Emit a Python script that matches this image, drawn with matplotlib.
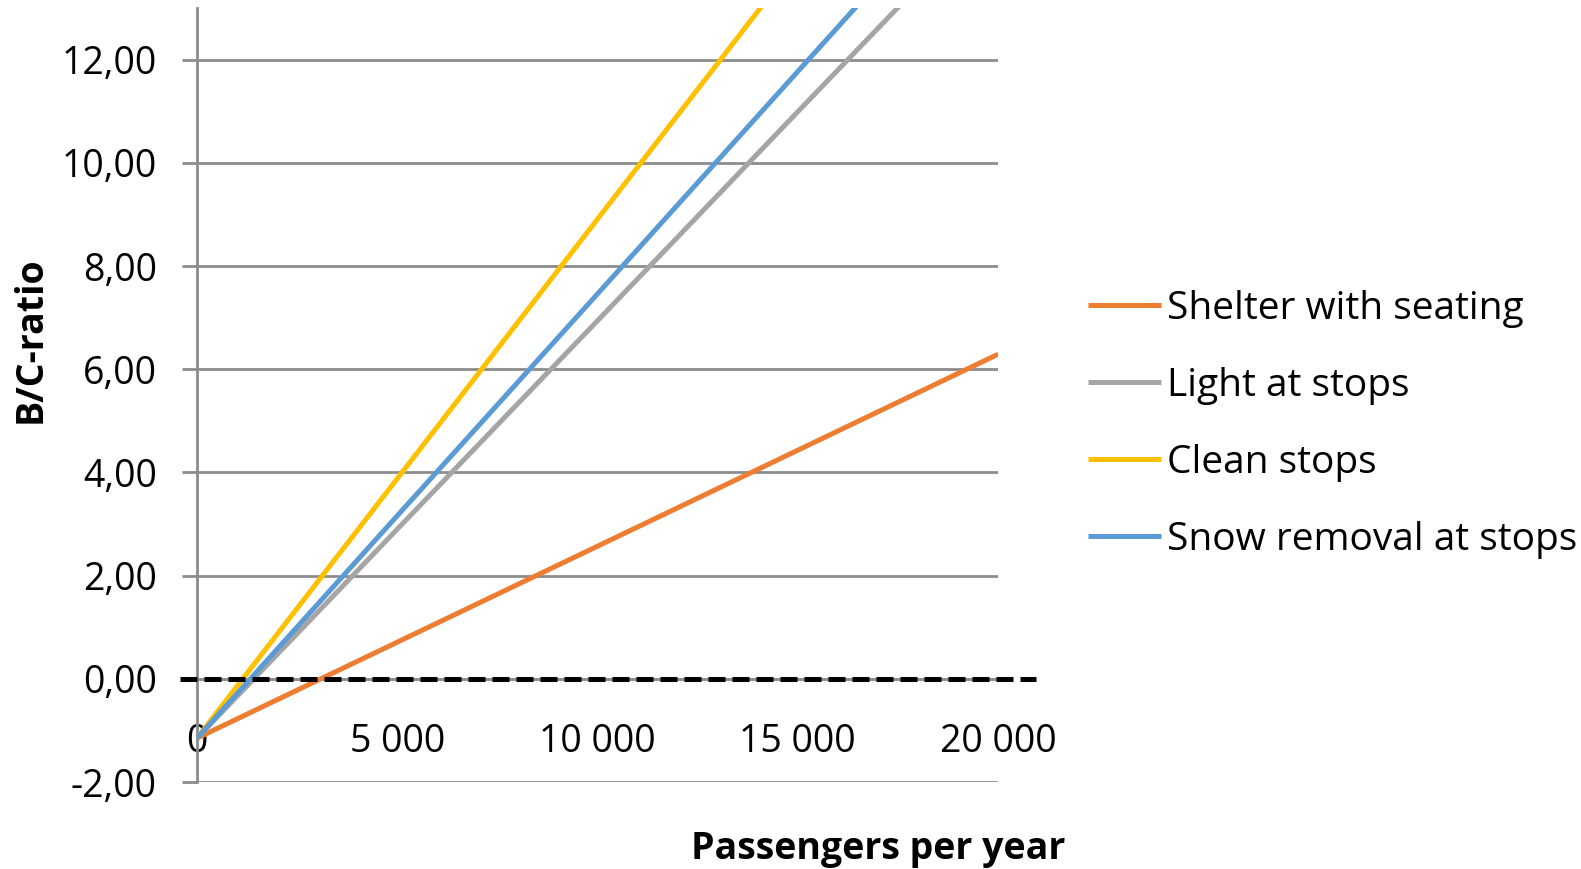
import matplotlib
matplotlib.use("Agg")
import matplotlib.pyplot as plt
from matplotlib.ticker import FuncFormatter

# passengers per year
passengers = [0, 5000, 10000, 15000, 20000]
# B/C-ratio per measure
shelter = [-1.15, 0.71, 2.57, 4.43, 6.29]
light = [-1.15, 2.90, 6.94, 10.99, 15.03]
clean = [-1.15, 3.88, 8.91, 13.94, 18.97]
snow = [-1.15, 3.16, 7.46, 11.77, 16.07]

series = [
    ("Shelter with seating", shelter, "#ED7D31"),
    ("Light at stops", light, "#A5A5A5"),
    ("Clean stops", clean, "#FFC000"),
    ("Snow removal at stops", snow, "#5B9BD5"),
]
yticks = [-2, 0, 2, 4, 6, 8, 10, 12]
xticks = [0, 5000, 10000, 15000, 20000]

plt.rcParams["font.family"] = ["Open Sans", "DejaVu Sans"]
GRID = "#8C8C8C"

fig = plt.figure(figsize=(15.81, 8.69), dpi=100)
ax = fig.add_axes([0.1246, 0.1001, 0.5067, 0.8907])

for name, vals, col in series:
    ax.plot(passengers, vals, color=col, lw=3.6, label=name,
            solid_capstyle="butt", zorder=3)

ax.axhline(0, xmin=-0.021, xmax=1.047, color="black", lw=3.6,
           dashes=(3.4, 1.4), clip_on=False, zorder=4)

ax.set_xlim(0, 20000)
ax.set_ylim(-2, 13)
ax.set_yticks(yticks)
ax.set_xticks(xticks)
ax.yaxis.set_major_formatter(FuncFormatter(lambda v, p: f"{v:.2f}".replace(".", ",")))
ax.xaxis.set_major_formatter(
    FuncFormatter(lambda v, p: f"{int(v):,}".replace(",", " ")))
ax.grid(axis="y", color=GRID, lw=2)
ax.set_axisbelow(True)

for s in ("top", "right"):
    ax.spines[s].set_visible(False)
ax.spines["left"].set_color(GRID)
ax.spines["left"].set_linewidth(2)
ax.spines["bottom"].set_position(("data", 0))
ax.spines["bottom"].set_color(GRID)
ax.spines["bottom"].set_linewidth(2)

ax.tick_params(axis="y", length=11, width=2, color=GRID, pad=18, labelsize=27)
ax.tick_params(axis="x", length=0, pad=32, labelsize=27)

ax.set_ylabel("B/C-ratio", fontsize=27, fontweight="bold")
ax.yaxis.set_label_coords(-0.184, 0.571)
ax.set_xlabel("Passengers per year", fontsize=27, fontweight="bold")
ax.xaxis.set_label_coords(0.850, -0.062)

ax.legend(loc="center left", bbox_to_anchor=(1.068, 0.462), frameon=False,
          fontsize=28, handlelength=1.9, handletextpad=0.15,
          labelspacing=1.0)

fig.savefig("out.png", dpi=100)
